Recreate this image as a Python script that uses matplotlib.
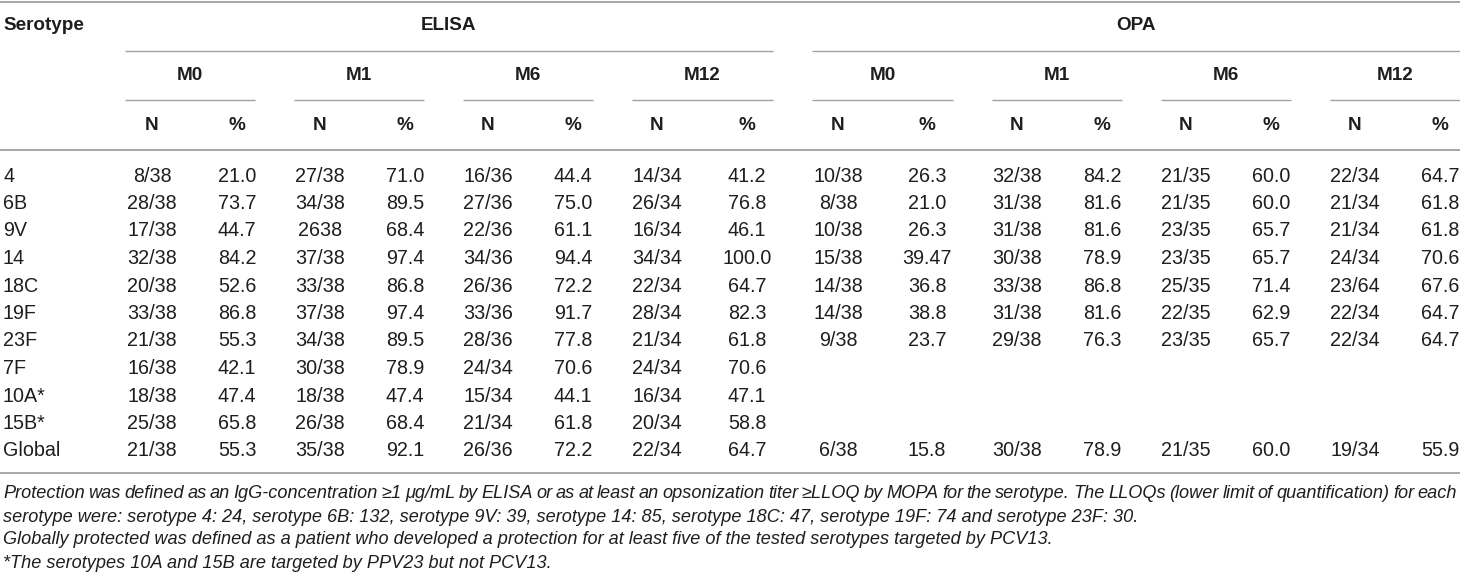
import matplotlib
matplotlib.use("Agg")
import matplotlib.pyplot as plt

plt.rcParams["font.family"] = ["Liberation Sans", "DejaVu Sans"]

# ---------------------------------------------------------------------------
# Datos de la tabla
# ---------------------------------------------------------------------------
serotipos = ["4", "6B", "9V", "14", "18C", "19F", "23F", "7F", "10A*", "15B*", "Global"]
meses = ["M0", "M1", "M6", "M12"]

elisa_n = [
    ["8/38", "27/38", "16/36", "14/34"],
    ["28/38", "34/38", "27/36", "26/34"],
    ["17/38", "2638", "22/36", "16/34"],
    ["32/38", "37/38", "34/36", "34/34"],
    ["20/38", "33/38", "26/36", "22/34"],
    ["33/38", "37/38", "33/36", "28/34"],
    ["21/38", "34/38", "28/36", "21/34"],
    ["16/38", "30/38", "24/34", "24/34"],
    ["18/38", "18/38", "15/34", "16/34"],
    ["25/38", "26/38", "21/34", "20/34"],
    ["21/38", "35/38", "26/36", "22/34"],
]
elisa_pct = [
    ["21.0", "71.0", "44.4", "41.2"],
    ["73.7", "89.5", "75.0", "76.8"],
    ["44.7", "68.4", "61.1", "46.1"],
    ["84.2", "97.4", "94.4", "100.0"],
    ["52.6", "86.8", "72.2", "64.7"],
    ["86.8", "97.4", "91.7", "82.3"],
    ["55.3", "89.5", "77.8", "61.8"],
    ["42.1", "78.9", "70.6", "70.6"],
    ["47.4", "47.4", "44.1", "47.1"],
    ["65.8", "68.4", "61.8", "58.8"],
    ["55.3", "92.1", "72.2", "64.7"],
]
opa_n = [
    ["10/38", "32/38", "21/35", "22/34"],
    ["8/38", "31/38", "21/35", "21/34"],
    ["10/38", "31/38", "23/35", "21/34"],
    ["15/38", "30/38", "23/35", "24/34"],
    ["14/38", "33/38", "25/35", "23/64"],
    ["14/38", "31/38", "22/35", "22/34"],
    ["9/38", "29/38", "23/35", "22/34"],
    ["", "", "", ""],
    ["", "", "", ""],
    ["", "", "", ""],
    ["6/38", "30/38", "21/35", "19/34"],
]
opa_pct = [
    ["26.3", "84.2", "60.0", "64.7"],
    ["21.0", "81.6", "60.0", "61.8"],
    ["26.3", "81.6", "65.7", "61.8"],
    ["39.47", "78.9", "65.7", "70.6"],
    ["36.8", "86.8", "71.4", "67.6"],
    ["38.8", "81.6", "62.9", "64.7"],
    ["23.7", "76.3", "65.7", "64.7"],
    ["", "", "", ""],
    ["", "", "", ""],
    ["", "", "", ""],
    ["15.8", "78.9", "60.0", "55.9"],
]

notas = [
    "Protection was defined as an IgG-concentration \u22651 \u03bcg/mL by ELISA or as at least an opsonization "
    "titer \u2265LLOQ by MOPA for the serotype. The LLOQs (lower limit of quantification) for each",
    "serotype were: serotype 4: 24, serotype 6B: 132, serotype 9V: 39, serotype 14: 85, serotype 18C: 47, "
    "serotype 19F: 74 and serotype 23F: 30.",
    "Globally protected was defined as a patient who developed a protection for at least five of the tested "
    "serotypes targeted by PCV13.",
    "*The serotypes 10A and 15B are targeted by PPV23 but not PCV13.",
]

# ---------------------------------------------------------------------------
# Maquetacion (en pixeles)
# ---------------------------------------------------------------------------
ANCHO, ALTO = 1460, 583
COLOR_LINEA = "#a0a0a0"
COLOR_TEXTO = "#1e1e1e"

# centros de columnas N y % por grupo
centros_n = {"ELISA": [152, 320, 488, 657], "OPA": [838, 1017, 1186, 1355]}
centros_pct = {"ELISA": [237, 405, 573, 747], "OPA": [927, 1102, 1271, 1440]}
tramos_mes = {
    "ELISA": [(125, 255), (294, 424), (463, 593), (632, 773)],
    "OPA": [(812, 953), (992, 1122), (1161, 1291), (1330, 1460)],
}
tramo_grupo = {"ELISA": (125, 773), "OPA": (812, 1460)}

y_grupo, y_mes, y_col = 26, 75, 126
y_lin_grupo, y_lin_mes, y_lin_cab = 51, 100, 150
y_fila0, paso_fila = 176, 27.5
y_fondo = 473
y_notas = [494, 517, 540, 563]

fig = plt.figure(figsize=(ANCHO / 100, ALTO / 100), dpi=100)
ax = fig.add_axes([0, 0, 1, 1])
ax.set_xlim(0, ANCHO)
ax.set_ylim(ALTO, 0)
ax.axis("off")

cab = dict(fontsize=13.6, fontweight="bold", color=COLOR_TEXTO, va="center")
cuerpo = dict(fontsize=14.2, color=COLOR_TEXTO, va="center")
nota = dict(fontsize=13.1, style="italic", color=COLOR_TEXTO, va="center")


def linea(x0, x1, y, lw=1.0):
    ax.plot([x0, x1], [y, y], color=COLOR_LINEA, lw=lw, solid_capstyle="butt")


# lineas horizontales
linea(0, ANCHO, 1.5, lw=1.3)
linea(0, ANCHO, y_lin_cab, lw=1.3)
linea(0, ANCHO, y_fondo, lw=1.3)
for g in ("ELISA", "OPA"):
    linea(*tramo_grupo[g], y_lin_grupo)
    for tramo in tramos_mes[g]:
        linea(*tramo, y_lin_mes)

# encabezados
ax.text(3, y_grupo, "Serotype", ha="left", **cab)
for g in ("ELISA", "OPA"):
    x0, x1 = tramo_grupo[g]
    ax.text((x0 + x1) / 2, y_grupo, g, ha="center", **cab)
    for (m0, m1), mes in zip(tramos_mes[g], meses):
        ax.text((m0 + m1) / 2, y_mes, mes, ha="center", **cab)
    for xn, xp in zip(centros_n[g], centros_pct[g]):
        ax.text(xn, y_col, "N", ha="center", **cab)
        ax.text(xp, y_col, "%", ha="center", **cab)

# cuerpo
tablas = {"ELISA": (elisa_n, elisa_pct), "OPA": (opa_n, opa_pct)}
for i, sero in enumerate(serotipos):
    y = y_fila0 + i * paso_fila
    ax.text(3, y, sero, ha="left", **cuerpo)
    for g, (tn, tp) in tablas.items():
        for j in range(len(meses)):
            ax.text(centros_n[g][j], y, tn[i][j], ha="center", **cuerpo)
            ax.text(centros_pct[g][j], y, tp[i][j], ha="center", **cuerpo)

# notas al pie (la primera linea va justificada)
renderer = fig.canvas.get_renderer()


def texto_justificado(texto, x0, x1, y):
    palabras = texto.split(" ")
    anchos = []
    for p in palabras:
        t = ax.text(0, 0, p, **nota)
        anchos.append(t.get_window_extent(renderer).width)
        t.remove()
    hueco = (x1 - x0 - sum(anchos)) / (len(palabras) - 1)
    x = x0
    for p, w in zip(palabras, anchos):
        ax.text(x, y, p, ha="left", **nota)
        x += w + hueco


texto_justificado(notas[0], 3, 1457, y_notas[0])
for texto, y in zip(notas[1:], y_notas[1:]):
    ax.text(3, y, texto, ha="left", **nota)

fig.savefig("out.png", dpi=100)
plt.close(fig)
